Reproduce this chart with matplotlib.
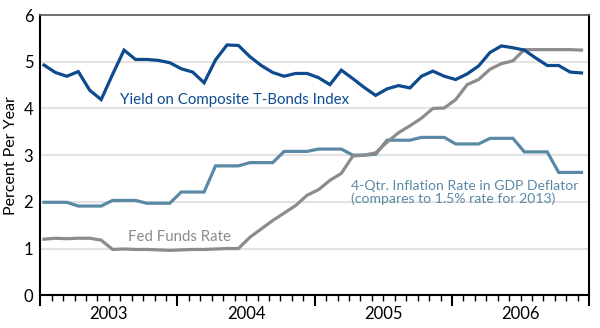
import numpy as np
import matplotlib
matplotlib.use('Agg')
import matplotlib.pyplot as plt
from matplotlib.ticker import MultipleLocator

plt.rcParams['font.family'] = ['Lato', 'DejaVu Sans']

# monthly data, Jan 2003 - Dec 2006
years = ['2003', '2004', '2005', '2006']

tbond_yield = [4.93, 4.77, 4.69, 4.79, 4.39, 4.19, 4.73, 5.25, 5.05, 5.05, 5.03, 4.98,
               4.85, 4.78, 4.55, 5.04, 5.36, 5.35, 5.11, 4.92, 4.77, 4.69, 4.75, 4.75,
               4.66, 4.51, 4.82, 4.64, 4.45, 4.28, 4.42, 4.49, 4.44, 4.69, 4.80, 4.69,
               4.62, 4.74, 4.91, 5.20, 5.34, 5.30, 5.25, 5.08, 4.92, 4.92, 4.78, 4.76]

inflation = [1.99, 1.99, 1.99, 1.91, 1.91, 1.91, 2.03, 2.03, 2.03, 1.97, 1.97, 1.97,
             2.21, 2.21, 2.21, 2.77, 2.77, 2.77, 2.84, 2.84, 2.84, 3.08, 3.08, 3.08,
             3.13, 3.13, 3.13, 3.00, 3.00, 3.02, 3.32, 3.32, 3.32, 3.38, 3.38, 3.38,
             3.24, 3.24, 3.24, 3.36, 3.36, 3.36, 3.07, 3.07, 3.07, 2.63, 2.63, 2.63]

fed_funds = [1.20, 1.22, 1.21, 1.22, 1.22, 1.18, 0.98, 0.99, 0.98, 0.98, 0.97, 0.96,
             0.97, 0.98, 0.98, 0.99, 1.00, 1.00, 1.24, 1.42, 1.60, 1.76, 1.92, 2.14,
             2.26, 2.46, 2.61, 2.98, 3.00, 3.05, 3.28, 3.48, 3.63, 3.79, 4.00, 4.01,
             4.19, 4.51, 4.62, 4.84, 4.96, 5.02, 5.26, 5.26, 5.26, 5.26, 5.26, 5.25]

dark_blue = '#0d4a8e'
steel_blue = '#5a89a6'
grey = '#8c8c8c'

x = np.arange(len(tbond_yield)) + 0.33

fig = plt.figure(figsize=(6.0, 3.28), dpi=100)
ax = fig.add_axes([0.067, 0.100, 0.915, 0.854])

for yv in range(1, 6):
    ax.axhline(yv, color='#e3e3e3', lw=1.5, zorder=0)

ax.plot(x, inflation, color=steel_blue, lw=2.3, solid_joinstyle='miter', zorder=2)
ax.plot(x, fed_funds, color=grey, lw=2.3, solid_joinstyle='miter', zorder=3)
ax.plot(x, tbond_yield, color=dark_blue, lw=2.3, solid_joinstyle='miter', zorder=4)

ax.set_xlim(0, 48)
ax.set_ylim(0, 6)
ax.set_yticks(range(0, 7))
ax.tick_params(axis='y', length=0, labelsize=12, pad=5)

ax.xaxis.set_major_locator(MultipleLocator(12))
ax.xaxis.set_minor_locator(MultipleLocator(1))
ax.set_xticklabels([])
ax.tick_params(axis='x', which='major', length=8, width=1.5, direction='out')
ax.tick_params(axis='x', which='minor', length=4, width=1.0, direction='out')
for i, yr in enumerate(years):
    ax.text(12 * i + 6, -0.41, yr, ha='center', va='center', fontsize=12)

for s in ['left', 'bottom', 'right']:
    ax.spines[s].set_linewidth(1.5)
ax.spines['top'].set_color('#555555')
ax.spines['top'].set_linewidth(1.2)

ax.set_ylabel('Percent Per Year', fontsize=11.5, labelpad=4)

ax.text(6.95, 4.19, 'Yield on Composite T-Bonds Index', color=dark_blue,
        fontsize=10.8, va='center', ha='left')
ax.text(7.7, 1.25, 'Fed Funds Rate', color=grey, fontsize=10.8, va='center', ha='left')
ax.text(27.2, 2.2, '4-Qtr. Inflation Rate in GDP Deflator\n(compares to 1.5% rate for 2013)',
        color=steel_blue, fontsize=10.1, va='center', ha='left', linespacing=1.1)

fig.savefig('out.png', dpi=100)
